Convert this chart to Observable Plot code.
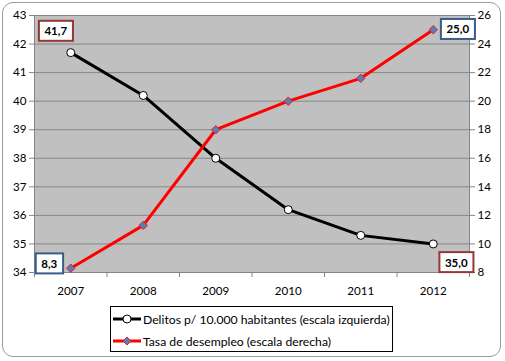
<!DOCTYPE html>
<html><head><meta charset="utf-8">
<script src="https://cdn.jsdelivr.net/npm/d3@7"></script>
<script src="https://cdn.jsdelivr.net/npm/@observablehq/plot@0.6"></script>
<style>
html,body{margin:0;padding:0;background:#fff;}
body{width:505px;height:361px;position:relative;overflow:hidden;font-family:Lato,"Open Sans",sans-serif;}
#frame{position:absolute;left:2px;top:2px;width:499px;height:355px;border:1px solid #9c9c9c;border-radius:11px;box-sizing:border-box;}
#chart{position:absolute;left:0;top:0;}
#legend{position:absolute;left:110px;top:306px;width:283px;height:46px;border:1px solid #000;background:#fff;box-sizing:border-box;font-size:12.2px;color:#000;}
.row{position:absolute;left:2px;height:20px;display:flex;align-items:center;white-space:nowrap;}
.row svg{margin-right:2px;}
</style></head><body>
<div id="frame"></div>
<div id="chart"></div>
<div id="legend"></div>
<script>
// ---- data ----
const years = [2007, 2008, 2009, 2010, 2011, 2012];
const delitos = [41.7, 40.2, 38.0, 36.2, 35.3, 35.0];
const desempleo = [8.3, 11.3, 18.0, 20.0, 21.6, 25.0];
const leftTicks = [34, 35, 36, 37, 38, 39, 40, 41, 42, 43];
const rightTicks = [8, 10, 12, 14, 16, 18, 20, 22, 24, 26];
const seriesNames = ["Delitos p/ 10.000 habitantes (escala izquierda)", "Tasa de desempleo (escala derecha)"];

// ---- scales mapping right axis onto left ----
const L0 = leftTicks[0], L1 = leftTicks[leftTicks.length - 1];
const R0 = rightTicks[0], R1 = rightTicks[rightTicks.length - 1];
const toLeft = v => L0 + (v - R0) * (L1 - L0) / (R1 - R0);
const fromLeft = v => Math.round(R0 + (v - L0) * (R1 - R0) / (L1 - L0));
const fmt = v => v.toFixed(1).replace(".", ",");

const dDel = years.map((y, i) => ({year: y, v: delitos[i], raw: delitos[i]}));
const dDes = years.map((y, i) => ({year: y, v: toLeft(desempleo[i]), raw: desempleo[i]}));
const xDomain = [years[0] - 0.5, years[years.length - 1] + 0.5];
const bounds = d3.range(years.length + 1).map(i => xDomain[0] + i);

const BLACK = "#000000", RED = "#ff0000", DIAM = "#5b7cb8";
const AX = "#868686";
const boxColors = ["#953735", "#385d8a", "#385d8a", "#953735"];

const labelStyle = {x: "year", y: "v", text: d => fmt(d.raw), fontWeight: "bold", fontSize: 11.5, fill: "#000"};

const chart = Plot.plot({
  width: 505,
  height: 300,
  marginLeft: 34,
  marginRight: 36,
  marginTop: 15,
  marginBottom: 28,
  style: {fontFamily: "Lato, 'Open Sans', sans-serif", fontSize: "11.6px", background: "transparent", color: "#000"},
  x: {domain: xDomain, type: "linear"},
  y: {domain: [L0, L1]},
  marks: [
    Plot.frame({fill: "#c0c0c0", stroke: "none"}),
    Plot.gridY(leftTicks, {stroke: AX, strokeOpacity: 1}),
    Plot.ruleX(xDomain, {stroke: AX}),
    Plot.ruleY([L0], {stroke: AX}),
    Plot.axisY(leftTicks, {anchor: "left", tickSize: 5, tickPadding: 3, stroke: AX, fill: "#000", label: null}),
    Plot.axisY(rightTicks.map(toLeft), {anchor: "right", tickSize: 5, tickPadding: 3, stroke: AX, fill: "#000", tickFormat: fromLeft, label: null}),
    Plot.axisX(bounds, {tickSize: 5, tickFormat: () => "", stroke: AX, label: null}),
    Plot.axisX(years, {tickSize: 0, tickPadding: 14, tickFormat: d => String(d), fill: "#000", label: null}),
    Plot.line(dDel, {x: "year", y: "v", stroke: BLACK, strokeWidth: 3}),
    Plot.dot(dDel, {x: "year", y: "v", r: 4, fill: "#fff", stroke: BLACK, strokeWidth: 1}),
    Plot.line(dDes, {x: "year", y: "v", stroke: RED, strokeWidth: 3}),
    Plot.dot(dDes, {x: "year", y: "v", symbol: "diamond2", r: 3.8, fill: DIAM, stroke: "#e02020", strokeWidth: 1}),
    Plot.text([dDel[0]], {...labelStyle, dx: -15, dy: -21}),
    Plot.text([dDes[dDes.length - 1]], {...labelStyle, dx: 24.5, dy: 0}),
    Plot.text([dDes[0]], {...labelStyle, dx: -21.5, dy: -4}),
    Plot.text([dDel[dDel.length - 1]], {...labelStyle, dx: 23, dy: 19})
  ]
});
document.getElementById("chart").appendChild(chart);

// boxes behind data labels
const labelTexts = Array.from(chart.querySelectorAll('g[aria-label="text"] text'));
labelTexts.forEach((t, i) => {
  const b = t.getBBox();
  const r = document.createElementNS("http://www.w3.org/2000/svg", "rect");
  const padX = 5.5, padY = 3.5;
  r.setAttribute("x", b.x - padX);
  r.setAttribute("y", b.y - padY);
  r.setAttribute("width", b.width + 2 * padX);
  r.setAttribute("height", b.height + 2 * padY);
  r.setAttribute("fill", "#fff");
  r.setAttribute("stroke", boxColors[i]);
  r.setAttribute("stroke-width", 2);
  const tr = t.getAttribute("transform");
  if (tr) r.setAttribute("transform", tr);
  t.parentNode.insertBefore(r, t);
});

// legend
const legend = document.getElementById("legend");
const swatches = [
  `<svg width="28" height="12"><line x1="0" x2="28" y1="6" y2="6" stroke="${BLACK}" stroke-width="3"/><circle cx="14" cy="6" r="4" fill="#fff" stroke="${BLACK}"/></svg>`,
  `<svg width="28" height="12"><line x1="0" x2="28" y1="6" y2="6" stroke="${RED}" stroke-width="3"/><path d="M14,2 L18,6 L14,10 L10,6 Z" fill="${DIAM}" stroke="#e02020"/></svg>`
];
seriesNames.forEach((name, i) => {
  const row = document.createElement("div");
  row.className = "row";
  row.style.top = (2 + i * 22) + "px";
  row.innerHTML = swatches[i] + `<span>${name}</span>`;
  legend.appendChild(row);
});
</script>
</body></html>
